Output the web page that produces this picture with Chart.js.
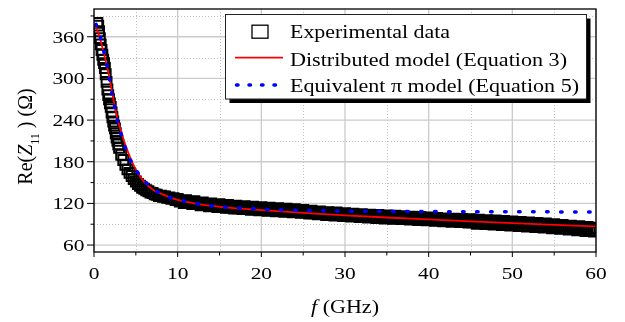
<!DOCTYPE html>
<html>
<head>
<meta charset="utf-8">
<script src="https://cdn.jsdelivr.net/npm/chart.js@4.4.1/dist/chart.umd.min.js"></script>
<style>
  html, body { margin: 0; padding: 0; background: #fff; }
  canvas { display: block; }
</style>
</head>
<body>
<canvas id="re-chart" width="625" height="322"></canvas>
<script>
// Axis ticks
const xTicks = [0, 10, 20, 30, 40, 50, 60];
const xMinorTicks = [5, 15, 25, 35, 45, 55];
const yTicks = [60, 120, 180, 240, 300, 360];
const yMinorTicks = [90, 150, 210, 270, 330, 390];

const seriesLabels = ['Experimental data', 'Distributed model (Equation 3)', 'Equivalent \u03c0 model (Equation 5)'];

// Measured Re(Z11), GHz / ohm
const expFreq = [
  0.4, 0.5, 0.6, 0.7, 0.8, 0.9, 1.0, 1.1, 1.2, 1.3, 1.4, 1.5, 1.6, 1.7, 1.8, 1.9,
  2.0, 2.1, 2.2, 2.3, 2.4, 2.5, 2.6, 2.7, 2.8, 2.9, 3.0,
  3.25, 3.5, 3.75, 4, 4.25, 4.5, 4.75, 5, 5.25, 5.5, 5.75, 6, 6.25, 6.5, 6.75,
  7, 7.25, 7.5, 7.75, 8, 8.25, 8.5, 8.75, 9, 9.25, 9.5, 9.75,
  10, 10.25, 10.5, 10.75, 11, 11.25, 11.5, 11.75, 12, 12.25, 12.5, 12.75,
  13, 13.25, 13.5, 13.75, 14, 14.25, 14.5, 14.75, 15, 15.25, 15.5, 15.75,
  16, 16.25, 16.5, 16.75, 17, 17.25, 17.5, 17.75, 18, 18.25, 18.5, 18.75,
  19, 19.25, 19.5, 19.75, 20, 20.25, 20.5, 20.75, 21, 21.25, 21.5, 21.75,
  22, 22.25, 22.5, 22.75, 23, 23.25, 23.5, 23.75, 24, 24.25, 24.5, 24.75,
  25, 25.25, 25.5, 25.75, 26, 26.25, 26.5, 26.75, 27, 27.25, 27.5, 27.75,
  28, 28.25, 28.5, 28.75, 29, 29.25, 29.5, 29.75, 30, 30.25, 30.5, 30.75,
  31, 31.25, 31.5, 31.75, 32, 32.25, 32.5, 32.75, 33, 33.25, 33.5, 33.75,
  34, 34.25, 34.5, 34.75, 35, 35.25, 35.5, 35.75, 36, 36.25, 36.5, 36.75,
  37, 37.25, 37.5, 37.75, 38, 38.25, 38.5, 38.75, 39, 39.25, 39.5, 39.75,
  40, 40.25, 40.5, 40.75, 41, 41.25, 41.5, 41.75, 42, 42.25, 42.5, 42.75,
  43, 43.25, 43.5, 43.75, 44, 44.25, 44.5, 44.75, 45, 45.25, 45.5, 45.75,
  46, 46.25, 46.5, 46.75, 47, 47.25, 47.5, 47.75, 48, 48.25, 48.5, 48.75,
  49, 49.25, 49.5, 49.75, 50, 50.25, 50.5, 50.75, 51, 51.25, 51.5, 51.75,
  52, 52.25, 52.5, 52.75, 53, 53.25, 53.5, 53.75, 54, 54.25, 54.5, 54.75,
  55, 55.25, 55.5, 55.75, 56, 56.25, 56.5, 56.75, 57, 57.25, 57.5, 57.75,
  58, 58.25, 58.5, 58.75, 59, 59.25, 59.5, 59.75, 60
];
const expRe = [
  380, 376, 368, 358, 349, 341, 334, 327, 322, 315, 306, 295, 284, 276, 270, 264,
  259, 251, 244, 238, 232, 228, 221, 215, 210, 205, 200,
  190, 182.5, 175.5, 169, 164, 159.5, 155, 151.5, 148, 145.5, 142.5, 141, 139, 137.5, 135.5,
  135, 133, 132.5, 130.5, 131, 129.5, 130, 128, 128.5, 126.5, 127.5, 125,
  126.5, 122.5, 124, 120.5, 124.5, 120.6, 122.3, 118.9, 123, 119.1, 120.8, 117.4,
  121.5, 117.6, 119.3, 115.9, 120, 116.2, 117.9, 114.6, 118.8, 115.1, 116.8, 113.6,
  117.8, 114.1, 115.8, 112.6, 116.8, 113.1, 114.9, 111.7, 116, 112.3, 114.1, 110.9,
  115.2, 111.5, 113.4, 110.2, 114.5, 110.8, 112.6, 109.5, 113.8, 110.1, 111.9, 108.7,
  113, 109.3, 111.1, 108, 112.3, 108.6, 110.4, 107.2, 111.5, 107.8, 109.5, 106.3,
  110.5, 106.8, 108.5, 105.3, 109.5, 105.8, 107.5, 104.3, 108.5, 104.8, 106.5, 103.3,
  107.5, 103.8, 105.6, 102.5, 106.8, 103.1, 104.9, 101.7, 106, 102.3, 104.1, 101,
  105.3, 101.6, 103.4, 100.2, 104.5, 100.9, 102.7, 99.5, 103.9, 100.2, 102, 98.9,
  103.2, 99.6, 101.5, 98.3, 102.7, 99.1, 101, 97.8, 102.2, 98.6, 100.4, 97.3,
  101.6, 98, 99.8, 96.7, 101, 97.4, 99.2, 96.1, 100.4, 96.8, 98.6, 95.5,
  99.8, 96.2, 98, 94.8, 99.2, 95.5, 97.3, 94.2, 98.5, 94.9, 96.8, 93.6,
  98, 94.4, 96.3, 93.1, 97.5, 93.8, 95.6, 92.5, 97.3, 92.6, 94.9, 90.7,
  96.5, 91.9, 94.2, 90.1, 95.9, 91.3, 93.6, 89.5, 95.3, 90.7, 93, 88.8,
  94.7, 90, 92.3, 88.2, 94, 89.3, 91.6, 87.5, 93.3, 88.6, 90.9, 86.7,
  92.5, 87.8, 90.1, 86, 91.8, 87.1, 89.4, 85.2, 91, 86.3, 88.5, 84.3,
  90, 85.3, 87.5, 83.3, 89, 84.3, 86.5, 82.3, 88, 83.3, 85.5, 81.3,
  87, 82.3, 84.5, 80.3, 86, 81.3, 83.5, 79.3, 85
];

// Distributed model (Equation 3)
const distFreq = [0.05, 0.3, 0.5, 0.7, 1, 1.25, 1.5, 1.75, 2, 2.25, 2.5, 2.75, 3, 3.5, 4, 4.5, 5, 5.5, 6,
  7, 8, 9, 10, 12, 14, 16, 18, 20, 25, 30, 35, 40, 45, 50, 55, 60];
const distRe = [378, 372, 366, 358, 345, 333, 320, 306, 291, 275, 259, 245, 233, 213, 196, 181, 169, 159, 151,
  140, 134, 129, 125, 120, 116.5, 114, 112, 110.3, 106.3, 102.8, 99.7, 96.9, 94.2, 91.6, 89.2, 87];

// Equivalent pi model (Equation 5)
const piFreq = [0.25, 0.5, 0.78, 1.17, 1.53, 1.85, 2.17, 2.5, 2.85, 3.33, 3.9, 4.64, 5.7, 6.84, 8, 9,
  10.4, 12, 13.6, 15.3, 17, 19.5, 21.2, 24.6, 28, 30.6, 34, 40, 45, 50, 55, 60];
const piRe = [378, 370, 359, 339, 319, 299, 277, 257, 237, 216, 195, 176, 157, 143, 134, 129,
  124.4, 120.3, 117.2, 115, 113.6, 112, 111.1, 110.1, 109.4, 108.9, 108.6, 108.2, 108, 107.9, 107.8, 107.7];

const FONT = '"Liberation Serif", "Times New Roman", Times, serif';
const DIGIT_W = 10.7;   // width of one tick digit in the source figure

const pairs = (xs, ys) => xs.map((x, i) => ({ x, y: ys[i] }));

function fontOf(size, style) {
  return (style ? style + ' ' : '') + size + 'px ' + FONT;
}

function textWidth(ctx, text, size, style) {
  ctx.save();
  ctx.font = fontOf(size, style);
  const w = ctx.measureText(text).width;
  ctx.restore();
  return w;
}

// draw text squeezed/widened to a given width
function fitText(ctx, text, x, y, size, width, align, style) {
  ctx.save();
  ctx.font = fontOf(size, style);
  const sx = width / ctx.measureText(text).width;
  ctx.translate(x, y);
  ctx.scale(sx, 1);
  ctx.textAlign = align || 'left';
  ctx.textBaseline = 'alphabetic';
  ctx.fillStyle = '#000';
  ctx.fillText(text, 0, 0);
  ctx.restore();
}

function seg(ctx, x1, y1, x2, y2) {
  ctx.beginPath();
  ctx.moveTo(x1, y1);
  ctx.lineTo(x2, y2);
  ctx.stroke();
}

const frame = {
  id: 'frame',
  beforeDatasetsDraw(chart) {
    const { ctx, chartArea: a, scales: { x, y } } = chart;
    ctx.save();
    ctx.lineWidth = 1;
    // minor grid, dotted
    ctx.strokeStyle = '#c2c2c2';
    ctx.setLineDash([1, 2]);
    xMinorTicks.forEach(v => { const p = Math.round(x.getPixelForValue(v)) + 0.5; seg(ctx, p, a.top, p, a.bottom); });
    yMinorTicks.forEach(v => { const p = Math.round(y.getPixelForValue(v)) + 0.5; seg(ctx, a.left, p, a.right, p); });
    // major grid
    ctx.setLineDash([]);
    ctx.strokeStyle = '#cbcbcb';
    ctx.lineWidth = 1.3;
    xTicks.forEach(v => { const p = x.getPixelForValue(v); seg(ctx, p, a.top, p, a.bottom); });
    yTicks.forEach(v => { const p = y.getPixelForValue(v); seg(ctx, a.left, p, a.right, p); });
    ctx.restore();
  },
  afterDatasetsDraw(chart) {
    const { ctx, chartArea: a, scales: { x, y } } = chart;
    ctx.save();
    ctx.strokeStyle = '#000';
    ctx.lineWidth = 1.3;
    ctx.strokeRect(a.left, a.top, a.right - a.left, a.bottom - a.top);

    // ticks, outward
    ctx.lineWidth = 1;
    yTicks.forEach(v => { const p = y.getPixelForValue(v); seg(ctx, a.left - 7, p, a.left, p); });
    yMinorTicks.forEach(v => { const p = y.getPixelForValue(v); seg(ctx, a.left - 3.5, p, a.left, p); });
    xTicks.forEach(v => { const p = x.getPixelForValue(v); seg(ctx, p, a.bottom, p, a.bottom + 5); });
    xMinorTicks.forEach(v => { const p = x.getPixelForValue(v); seg(ctx, p, a.bottom, p, a.bottom + 3.5); });

    // tick labels
    yTicks.forEach(v => {
      const s = String(v);
      fitText(ctx, s, a.left - 9.5, y.getPixelForValue(v) + 5.8, 17, s.length * DIGIT_W, 'right');
    });
    xTicks.forEach(v => {
      const s = String(v);
      fitText(ctx, s, x.getPixelForValue(v), a.bottom + 27.3, 17, s.length * DIGIT_W, 'center');
    });

    // x title: f (GHz)
    const tSize = 18.5;
    const wf = textWidth(ctx, 'f', tSize, 'italic');
    const wr = textWidth(ctx, ' (GHz)', tSize);
    const k = 68 / (wf + wr);
    const x0 = (a.left + a.right) / 2 - 34;
    fitText(ctx, 'f', x0, 313, tSize, wf * k, 'left', 'italic');
    fitText(ctx, ' (GHz)', x0 + wf * k, 313, tSize, wr * k, 'left');

    // y title: Re(Z11) (Ohm), rotated
    const ys = 20, ss = 12;
    const w1 = textWidth(ctx, 'Re(', ys);
    const w2 = textWidth(ctx, 'Z', ys, 'italic');
    const w3 = textWidth(ctx, '11', ss);
    const w4 = textWidth(ctx, ' ) (\u03a9)', ys);
    const total = w1 + w2 + w3 + w4;
    ctx.save();
    ctx.translate(31.5, (a.top + a.bottom) / 2 + 6);
    ctx.rotate(-Math.PI / 2);
    ctx.fillStyle = '#000';
    ctx.textBaseline = 'alphabetic';
    ctx.textAlign = 'left';
    let tx = -total / 2;
    ctx.font = fontOf(ys); ctx.fillText('Re(', tx, 0); tx += w1;
    ctx.font = fontOf(ys, 'italic'); ctx.fillText('Z', tx, 0); tx += w2;
    ctx.font = fontOf(ss); ctx.fillText('11', tx, 7.5); tx += w3;
    ctx.font = fontOf(ys); ctx.fillText(' ) (\u03a9)', tx, 0);
    ctx.restore();

    // legend box with drop shadow
    const L = { x: 225.5, y: 14.5, w: 361, h: 84.5 };
    ctx.fillStyle = '#000';
    ctx.fillRect(L.x + 4, L.y + 4, L.w, L.h);
    ctx.fillStyle = '#fff';
    ctx.fillRect(L.x, L.y, L.w, L.h);
    ctx.strokeStyle = '#222';
    ctx.lineWidth = 1;
    ctx.strokeRect(L.x, L.y, L.w, L.h);

    ctx.lineWidth = 1.3;
    ctx.strokeStyle = '#000';
    ctx.strokeRect(252, 25.2, 16, 13);
    ctx.strokeStyle = '#ff0000';
    ctx.lineWidth = 1.8;
    seg(ctx, 235, 57.7, 283, 57.7);
    ctx.strokeStyle = '#0000ff';
    ctx.lineWidth = 3.5;
    ctx.lineCap = 'round';
    ctx.setLineDash([1.5, 11]);
    seg(ctx, 236.5, 85, 282, 85);
    ctx.setLineDash([]);
    ctx.lineCap = 'butt';

    fitText(ctx, seriesLabels[0], 290, 38.3, tSize, 160);
    fitText(ctx, seriesLabels[1], 290, 65.7, tSize, 277);
    fitText(ctx, seriesLabels[2], 290, 92.3, tSize, 289);
    ctx.restore();
  }
};

new Chart(document.getElementById('re-chart'), {
  type: 'scatter',
  data: {
    datasets: [
      {
        label: seriesLabels[0],
        data: pairs(expFreq, expRe),
        pointStyle: 'rect',
        pointRadius: 7,
        borderWidth: 2,
        borderColor: '#000',
        backgroundColor: 'rgba(0,0,0,0)',
        order: 3
      },
      {
        label: seriesLabels[1],
        data: pairs(distFreq, distRe),
        showLine: true,
        pointRadius: 0,
        borderColor: '#ff0000',
        borderWidth: 1.8,
        cubicInterpolationMode: 'monotone',
        order: 2
      },
      {
        label: seriesLabels[2],
        data: pairs(piFreq, piRe),
        showLine: true,
        pointRadius: 0,
        borderColor: '#0000ff',
        borderWidth: 3.5,
        borderDash: [1.5, 12.5],
        borderCapStyle: 'round',
        cubicInterpolationMode: 'monotone',
        order: 1
      }
    ]
  },
  options: {
    responsive: false,
    animation: false,
    devicePixelRatio: 1,
    layout: { padding: { left: 0, right: 29, top: 7, bottom: 0 } },
    plugins: { legend: { display: false }, tooltip: { enabled: false } },
    scales: {
      x: {
        type: 'linear', min: 0, max: 60,
        grid: { display: false }, border: { display: false }, ticks: { display: false },
        afterBuildTicks: s => { s.ticks = xTicks.map(v => ({ value: v })); },
        afterFit: s => { s.height = 70; }
      },
      y: {
        type: 'linear', min: 50, max: 400,
        grid: { display: false }, border: { display: false }, ticks: { display: false },
        afterBuildTicks: s => { s.ticks = yTicks.map(v => ({ value: v })); },
        afterFit: s => { s.width = 94; }
      }
    }
  },
  plugins: [frame]
});
</script>
</body>
</html>
